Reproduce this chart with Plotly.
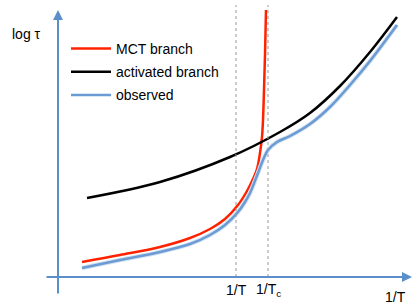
import plotly.graph_objects as go

# Data (x = 1/T, y = log tau, arbitrary units; origin at axis crossing)
mct_x = [24, 62, 102, 132, 152, 167, 180, 189, 195, 199, 202, 204, 205, 206, 207, 208]
mct_y = [15, 22, 30, 39, 48, 58, 72, 86, 98, 108, 124, 140, 157, 187, 222, 267]

act_x = [29, 102, 172, 222, 252, 282, 312, 339]
act_y = [79, 95, 120, 145, 164, 191, 225, 260]

obs_x = [24, 62, 102, 132, 152, 167, 180, 187, 192, 200, 205, 210, 219, 232, 252, 272, 292, 312, 339]
obs_y = [9, 17, 25, 33, 42, 52, 65, 75, 84, 104, 117, 127, 135, 141, 153, 170, 192, 216, 252]

T_line = 178
Tc_line = 210

fig = go.Figure()

fig.add_trace(go.Scatter(x=mct_x, y=mct_y, mode="lines", name="MCT branch",
                         line=dict(color="#ff2200", width=2.5, shape="spline"),
                         legendgroup="a"))
fig.add_trace(go.Scatter(x=act_x, y=act_y, mode="lines", name="activated branch",
                         line=dict(color="#000000", width=2.5, shape="spline"),
                         legendgroup="b"))
fig.add_trace(go.Scatter(x=obs_x, y=obs_y, mode="lines", showlegend=False,
                         line=dict(color="#d3e2f3", width=4.5, shape="spline"),
                         hoverinfo="skip", legendgroup="c"))
fig.add_trace(go.Scatter(x=obs_x, y=obs_y, mode="lines", name="observed",
                         line=dict(color="#6a9bd3", width=2.5, shape="spline"),
                         legendgroup="c"))

# dotted vertical guide lines
for xv in (T_line, Tc_line):
    fig.add_shape(type="line", x0=xv, x1=xv, y0=0, y1=272, xref="x", yref="y",
                  line=dict(color="#9a9a9a", width=1, dash="dot"))

axis_col = "#5b8fcb"
# y axis arrow
fig.add_annotation(x=0, y=267, ax=0, ay=-18, xref="x", yref="y", axref="x", ayref="y",
                   showarrow=True, arrowhead=2, arrowsize=1, arrowwidth=2, arrowcolor=axis_col, text="")
# x axis arrow
fig.add_annotation(x=354, y=0, ax=-13, ay=0, xref="x", yref="y", axref="x", ayref="y",
                   showarrow=True, arrowhead=2, arrowsize=1, arrowwidth=2, arrowcolor=axis_col, text="")

font = dict(family="Liberation Sans, Arial, sans-serif", size=14, color="#000000")
fig.add_annotation(x=-32, y=243, text="log \u03c4", showarrow=False, font=font, xref="x", yref="y")
fig.add_annotation(x=T_line, y=-13, text="1/T", showarrow=False, font=font, xref="x", yref="y")
fig.add_annotation(x=Tc_line, y=-13, text="1/T<sub>c</sub>", showarrow=False, font=font, xref="x", yref="y")
fig.add_annotation(x=337, y=-20, text="1/T", showarrow=False, font=font, xref="x", yref="y")

fig.update_xaxes(range=[-58, 357], visible=False, fixedrange=True)
fig.update_yaxes(range=[-30, 277], visible=False, fixedrange=True)

fig.update_layout(
    width=415, height=307,
    margin=dict(l=0, r=0, t=0, b=0),
    paper_bgcolor="white", plot_bgcolor="white",
    showlegend=True,
    legend=dict(x=66 / 415, y=1 - 33 / 307, xanchor="left", yanchor="top",
                bgcolor="rgba(0,0,0,0)", font=font, traceorder="grouped",
                tracegroupgap=2, itemwidth=40),
)

fig.write_html("out.html", config={"displayModeBar": False},
               post_script="document.body.style.margin='0';")
